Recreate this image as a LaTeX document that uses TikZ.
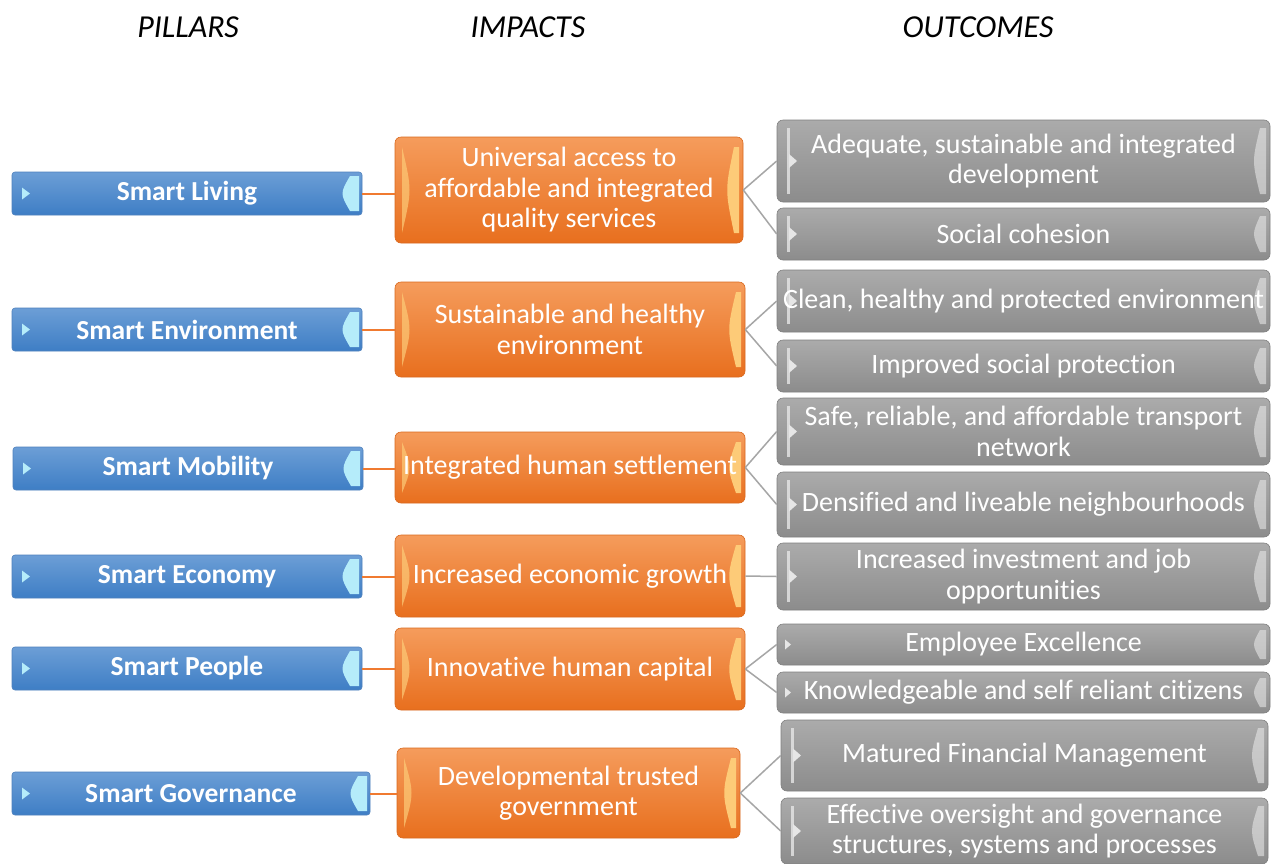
\documentclass[tikz,border=0pt]{standalone}
\usepackage{fontspec}
\setmainfont{Carlito}[Ligatures={NoCommon}]
\usetikzlibrary{calc}
\definecolor{blueTop}{HTML}{6C9ED6}
\definecolor{blueMid}{HTML}{5AA6EA}
\definecolor{blueBot}{HTML}{3E7EC5}
\definecolor{blueEdge}{HTML}{4F81BD}
\definecolor{blueHi}{HTML}{B5ECFA}
\definecolor{orTop}{HTML}{F59C5C}
\definecolor{orMid}{HTML}{F3883A}
\definecolor{orBot}{HTML}{E86F1E}
\definecolor{orEdge}{HTML}{D9691F}
\definecolor{orHi}{HTML}{FDCB78}
\definecolor{grTop}{HTML}{ABABAB}
\definecolor{grMid}{HTML}{9E9E9E}
\definecolor{grBot}{HTML}{8C8C8C}
\definecolor{grEdge}{HTML}{808080}
\definecolor{grHi}{HTML}{E6E6E6}
\definecolor{orLine}{HTML}{F07A30}
\definecolor{grLine}{HTML}{A6A6A6}
\tikzset{
  pillar/.style={rounded corners=3pt, draw=blueEdge, line width=0.6pt,
    top color=blueTop, middle color=blueMid, bottom color=blueBot,
    text=white, font=\fontsize{27.5}{30}\selectfont\bfseries,
    minimum height=43pt, inner sep=0pt, align=center,
    path picture={
      \fill[blueHi, sharp corners] ([xshift=10pt,yshift=6pt]path picture bounding box.west) -- ([xshift=18pt]path picture bounding box.west) -- ([xshift=10pt,yshift=-6pt]path picture bounding box.west) -- cycle;
      \fill[blueHi, sharp corners] ([xshift=-12pt,yshift=-4pt]path picture bounding box.north east) .. controls ([xshift=-22pt]path picture bounding box.east) .. ([xshift=-12pt,yshift=4pt]path picture bounding box.south east) -- ([xshift=-3pt,yshift=4pt]path picture bounding box.south east) -- ([xshift=-3pt,yshift=-4pt]path picture bounding box.north east) -- cycle;
    }},
  impact/.style={rounded corners=6pt, draw=orEdge, line width=0.6pt,
    top color=orTop, middle color=orMid, bottom color=orBot,
    text=white, font=\fontsize{28}{30.5}\selectfont,
    inner sep=0pt, align=center,
    path picture={
      \fill[orHi, opacity=0.7, sharp corners] ([xshift=7pt,yshift=-10pt]path picture bounding box.north west) .. controls ([xshift=17pt]path picture bounding box.west) .. ([xshift=7pt,yshift=10pt]path picture bounding box.south west) -- cycle;
      \fill[orHi, sharp corners] ([xshift=-9pt,yshift=-10pt]path picture bounding box.north east) .. controls ([xshift=-18pt]path picture bounding box.east) .. ([xshift=-9pt,yshift=10pt]path picture bounding box.south east) -- ([xshift=-4pt,yshift=10pt]path picture bounding box.south east) -- ([xshift=-4pt,yshift=-10pt]path picture bounding box.north east) -- cycle;
    }},
  outcome/.style={rounded corners=6pt, draw=grEdge, line width=0.6pt,
    top color=grTop, middle color=grMid, bottom color=grBot,
    text=white, font=\fontsize{28}{30.5}\selectfont,
    inner sep=0pt, align=center,
    path picture={
      \fill[grHi, opacity=0.8, sharp corners] ([xshift=10pt,yshift=-8pt]path picture bounding box.north west) rectangle ([xshift=13pt,yshift=8pt]path picture bounding box.south west);
      \fill[grHi, sharp corners] ([xshift=12pt,yshift=7pt]path picture bounding box.west) -- ([xshift=20pt]path picture bounding box.west) -- ([xshift=12pt,yshift=-7pt]path picture bounding box.west) -- cycle;
      \fill[grHi, opacity=0.6, sharp corners] ([xshift=-10pt,yshift=-8pt]path picture bounding box.north east) .. controls ([xshift=-18pt]path picture bounding box.east) .. ([xshift=-10pt,yshift=8pt]path picture bounding box.south east) -- ([xshift=-4pt,yshift=8pt]path picture bounding box.south east) -- ([xshift=-4pt,yshift=-8pt]path picture bounding box.north east) -- cycle;
    }},
  outcomesm/.style={outcome,
    path picture={
      \fill[grHi, sharp corners] ([xshift=8pt,yshift=5pt]path picture bounding box.west) -- ([xshift=14pt]path picture bounding box.west) -- ([xshift=8pt,yshift=-5pt]path picture bounding box.west) -- cycle;
      \fill[grHi, opacity=0.6, sharp corners] ([xshift=-10pt,yshift=-6pt]path picture bounding box.north east) .. controls ([xshift=-18pt]path picture bounding box.east) .. ([xshift=-10pt,yshift=6pt]path picture bounding box.south east) -- ([xshift=-4pt,yshift=6pt]path picture bounding box.south east) -- ([xshift=-4pt,yshift=-6pt]path picture bounding box.north east) -- cycle;
    }},
  header/.style={font=\fontsize{32}{36}\selectfont\itshape, text=black, inner sep=0pt},
  olink/.style={draw=orLine, line width=2pt},
  glink/.style={draw=grLine, line width=1.5pt},
}
\begin{document}
\begin{tikzpicture}[x=1pt,y=-1pt]
\useasboundingbox[fill=white] (0,0) rectangle (1282,863);

\node[header] (h1) at (188,27) {PILLARS};
\node[header] (h2) at (528,27) {IMPACTS};
\node[header] (h3) at (978,27) {OUTCOMES};

% pillars
\node[pillar, minimum width=350pt] (p1) at (187,193.5) {Smart Living};
\node[pillar, minimum width=350pt] (p2) at (187,329.5) {Smart Environment};
\node[pillar, minimum width=350pt] (p3) at (188,468.5) {Smart Mobility};
\node[pillar, minimum width=350pt] (p4) at (187,576.5) {Smart Economy};
\node[pillar, minimum width=350pt] (p5) at (187,668.5) {Smart People};
\node[pillar, minimum width=358pt] (p6) at (191,793.5) {Smart Governance};

% impacts
\node[impact, minimum width=348pt, minimum height=106pt] (i1) at (569,190) {Universal access to\\affordable and integrated\\quality services};
\node[impact, minimum width=350pt, minimum height=95pt] (i2) at (570,329.5) {Sustainable and healthy\\environment};
\node[impact, minimum width=350pt, minimum height=71pt] (i3) at (570,467.5) {Integrated human settlement};
\node[impact, minimum width=350pt, minimum height=82pt] (i4) at (570,576) {Increased economic growth};
\node[impact, minimum width=350pt, minimum height=82pt] (i5) at (570,669) {Innovative human capital};
\node[impact, minimum width=343pt, minimum height=90pt] (i6) at (568.5,793) {Developmental trusted\\government};

% outcomes
\node[outcome, minimum width=493pt, minimum height=82pt] (o1) at (1023.5,161) {Adequate, sustainable and integrated\\development};
\node[outcome, minimum width=493pt, minimum height=52pt] (o2) at (1023.5,234) {Social cohesion};
\node[outcome, minimum width=493pt, minimum height=62pt] (o3) at (1023.5,301) {Clean, healthy and protected environment};
\node[outcome, minimum width=493pt, minimum height=52pt] (o4) at (1023.5,366) {Improved social protection};
\node[outcome, minimum width=493pt, minimum height=67pt] (o5) at (1023.5,431.5) {Safe, reliable, and affordable transport\\network};
\node[outcome, minimum width=493pt, minimum height=65pt] (o6) at (1023.5,504.5) {Densified and liveable neighbourhoods};
\node[outcome, minimum width=493pt, minimum height=67pt] (o7) at (1023.5,576.5) {Increased investment and job\\opportunities};
\node[outcomesm, minimum width=493pt, minimum height=41pt] (o8) at (1023.5,644.5) {Employee Excellence};
\node[outcomesm, minimum width=493pt, minimum height=41pt] (o9) at (1023.5,692.5) {Knowledgeable and self reliant citizens};
\node[outcome, minimum width=487pt, minimum height=71pt] (o10) at (1024.5,755.5) {Matured Financial Management};
\node[outcome, minimum width=487pt, minimum height=66pt] (o11) at (1024.5,831) {Effective oversight and governance\\structures, systems and processes};

% pillar -> impact
\draw[olink] (p1.east) -- (i1.west |- p1.east);
\draw[olink] (p2.east) -- (i2.west |- p2.east);
\draw[olink] (p3.east) -- (i3.west |- p3.east);
\draw[olink] (p4.east) -- (i4.west |- p4.east);
\draw[olink] (p5.east) -- (i5.west |- p5.east);
\draw[olink] (p6.east) -- (i6.west |- p6.east);

% impact -> outcome
\draw[glink] (i1.east) -- (o1.west);
\draw[glink] (i1.east) -- (o2.west);
\draw[glink] (i2.east) -- (o3.west);
\draw[glink] (i2.east) -- (o4.west);
\draw[glink] (i3.east) -- (o5.west);
\draw[glink] (i3.east) -- (o6.west);
\draw[glink] (i4.east) -- (o7.west);
\draw[glink] (i5.east) -- (o8.west);
\draw[glink] (i5.east) -- (o9.west);
\draw[glink] (i6.east) -- (o10.west);
\draw[glink] (i6.east) -- (o11.west);
\end{tikzpicture}
\end{document}
